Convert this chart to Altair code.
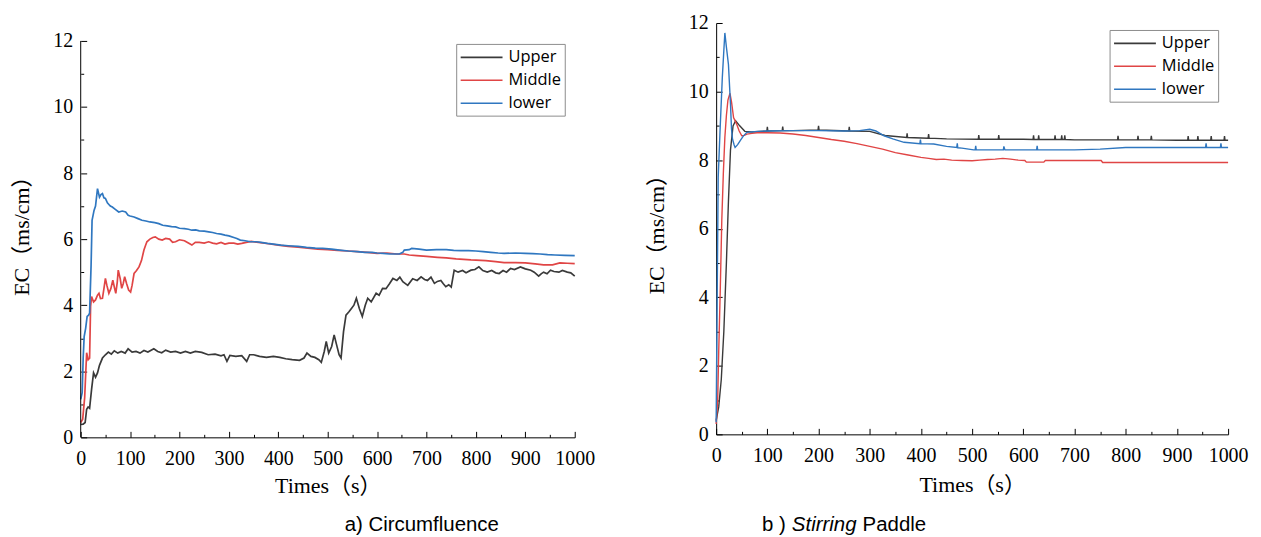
import altair as alt
import pandas as pd

SERIES = ["Upper", "Middle", "lower"]
COLORS = ["#3a3a3a", "#e04545", "#2f77c0"]
X_TICKS = list(range(0, 1001, 100))
X_MINOR = list(range(0, 1001, 50))
Y_TICKS = list(range(0, 13, 2))
Y_MINOR = list(range(0, 13, 1))
X_TITLE = "Times（s）"
Y_TITLE = "EC（ms/cm）"
CAPTION_A = ["a) Circumfluence"]
CAPTION_B = ["b )", "Stirring", "Paddle"]

LABEL_FONT = "Liberation Serif, Times New Roman, serif"
TITLE_FONT = "Liberation Serif, Noto Sans CJK SC, serif"

# ---- panel a) Circumfluence : (time s, EC ms/cm)
UPPER_A = [(0,0.39),(5,0.40),(9,0.45),(12,0.85),(15,0.92),(18,0.88),(22,1.45),(26,1.95),(30,1.82),(34,1.95),(38,2.18),(44,2.40),(50,2.5),(56,2.58),(62,2.52),(68,2.62),(75,2.55),(82,2.6),(90,2.55),(96,2.68),(104,2.58),(112,2.6),(120,2.55),(128,2.63),(136,2.58),(148,2.68),(156,2.6),(164,2.56),(172,2.64),(182,2.58),(192,2.6),(202,2.55),(212,2.6),(222,2.55),(232,2.6),(245,2.57),(258,2.5),(272,2.52),(284,2.47),(290,2.5),(296,2.3),(302,2.48),(314,2.45),(326,2.47),(336,2.3),(342,2.5),(350,2.5),(362,2.45),(376,2.42),(390,2.45),(403,2.42),(415,2.38),(428,2.35),(443,2.33),(452,2.4),(458,2.55),(466,2.45),(474,2.42),(482,2.35),(487,2.27),(493,2.6),(497,2.9),(502,2.55),(508,2.75),(513,3.1),(518,2.8),(523,2.5),(527,2.4),(532,3.2),(537,3.7),(543,3.8),(548,3.9),(553,4.0),(558,4.21),(564,3.9),(570,3.66),(576,4.0),(581,4.21),(588,4.1),(598,4.36),(604,4.3),(611,4.51),(618,4.5),(625,4.65),(632,4.81),(640,4.75),(646,4.85),(652,4.71),(662,4.6),(672,4.8),(681,4.75),(689,4.86),(696,4.78),(702,4.75),(709,4.85),(716,4.66),(722,4.72),(729,4.75),(734,4.65),(739,4.56),(745,4.62),(750,4.55),(756,5.06),(764,5.0),(773,5.05),(780,4.98),(790,5.06),(798,5.08),(806,5.16),(814,5.05),(823,5.0),(832,5.05),(840,4.98),(847,4.96),(855,5.05),(862,5.0),(870,5.11),(878,5.08),(890,5.16),(900,5.1),(911,5.06),(918,5.0),(927,4.88),(932,4.95),(937,5.0),(944,4.95),(951,5.06),(958,5.02),(968,5.0),(975,5.05),(985,5.0),(992,4.98),(1000,4.88)]
MIDDLE_A = [(0,0.45),(4,0.55),(8,1.2),(12,2.56),(15,2.35),(18,2.4),(20,3.96),(22,4.26),(26,4.1),(30,4.16),(34,4.3),(37,4.36),(40,4.2),(44,4.21),(47,4.5),(50,4.81),(53,4.6),(57,4.36),(61,4.5),(65,4.76),(68,4.55),(71,4.36),(74,4.7),(76,5.06),(80,4.8),(83,4.51),(86,4.65),(89,4.86),(93,4.65),(97,4.46),(101,4.4),(104,4.6),(108,4.96),(113,5.05),(118,5.16),(123,5.35),(128,5.67),(131,5.8),(134,5.92),(140,6.0),(146,6.05),(151,6.07),(158,6.0),(165,5.97),(172,6.02),(180,6.0),(186,5.9),(192,5.92),(200,5.98),(210,5.95),(218,5.88),(225,5.82),(232,5.9),(240,5.9),(250,5.88),(259,5.92),(267,5.88),(275,5.86),(284,5.9),(292,5.85),(300,5.88),(310,5.88),(318,5.85),(326,5.87),(335,5.9),(345,5.93),(360,5.9),(380,5.86),(400,5.82),(420,5.78),(440,5.76),(460,5.73),(480,5.7),(500,5.68),(520,5.66),(540,5.64),(560,5.62),(580,5.6),(600,5.57),(620,5.58),(640,5.55),(655,5.55),(665,5.52),(680,5.5),(700,5.48),(722,5.45),(740,5.43),(760,5.4),(790,5.37),(820,5.35),(840,5.32),(857,5.29),(880,5.29),(900,5.28),(920,5.25),(937,5.22),(955,5.22),(970,5.28),(985,5.27),(1000,5.26)]
LOWER_A = [(0,1.15),(3,1.35),(5,2.4),(7,3.05),(10,3.3),(13,3.66),(16,3.7),(18,3.76),(21,5.2),(23,6.57),(27,6.87),(30,7.0),(34,7.53),(36,7.4),(38,7.27),(41,7.35),(44,7.38),(47,7.25),(50,7.23),(54,7.1),(57,7.05),(60,7.0),(64,6.97),(70,6.9),(77,6.82),(84,6.85),(91,6.82),(96,6.72),(100,6.7),(108,6.67),(116,6.62),(124,6.57),(132,6.55),(140,6.52),(150,6.5),(158,6.47),(166,6.42),(175,6.4),(184,6.38),(192,6.37),(200,6.33),(210,6.32),(218,6.3),(225,6.27),(233,6.28),(240,6.25),(250,6.24),(259,6.22),(267,6.2),(275,6.17),(284,6.15),(292,6.12),(300,6.1),(310,6.05),(316,6.02),(323,5.97),(333,5.95),(343,5.92),(355,5.92),(365,5.9),(378,5.87),(390,5.85),(405,5.82),(420,5.8),(440,5.78),(457,5.75),(475,5.73),(490,5.72),(508,5.7),(524,5.67),(542,5.64),(560,5.62),(575,5.6),(590,5.6),(600,5.58),(612,5.57),(625,5.55),(645,5.55),(652,5.6),(655,5.67),(665,5.68),(670,5.72),(685,5.7),(700,5.67),(720,5.68),(740,5.68),(755,5.66),(769,5.65),(785,5.65),(800,5.64),(815,5.62),(830,5.6),(845,5.58),(857,5.57),(880,5.58),(900,5.57),(915,5.56),(930,5.55),(945,5.53),(960,5.52),(980,5.51),(1000,5.5)]

# ---- panel b) Stirring Paddle
UPPER_B = [(0,0.4),(5,0.8),(10,1.6),(15,3.0),(20,5.0),(24,6.8),(28,8.3),(33,9.0),(38,9.15),(46,9.0),(56,8.84),(70,8.82),(99,8.85),(100,8.97),(101,8.85),(129,8.86),(130,8.98),(131,8.86),(150,8.86),(199,8.88),(200,9.0),(201,8.88),(259,8.85),(260,8.97),(261,8.85),(300,8.84),(330,8.72),(372,8.66),(373,8.78),(374,8.66),(414,8.64),(415,8.76),(416,8.64),(450,8.62),(512,8.61),(513,8.73),(514,8.61),(551,8.61),(552,8.73),(553,8.61),(600,8.61),(619,8.6),(620,8.72),(621,8.6),(629,8.6),(630,8.72),(631,8.6),(661,8.6),(662,8.72),(663,8.6),(674,8.6),(675,8.72),(676,8.6),(680,8.6),(681,8.72),(682,8.6),(700,8.59),(784,8.59),(785,8.71),(786,8.59),(823,8.59),(824,8.71),(825,8.59),(849,8.59),(850,8.71),(851,8.59),(900,8.58),(921,8.58),(922,8.7),(923,8.58),(940,8.58),(941,8.7),(942,8.58),(966,8.58),(967,8.7),(968,8.58),(992,8.58),(993,8.7),(994,8.58),(1000,8.58)]
MIDDLE_B = [(0,0.3),(3,1.0),(5,2.4),(8,4.2),(11,6.24),(14,7.6),(17,8.66),(20,9.3),(23,9.75),(27,9.95),(30,9.7),(34,9.24),(40,9.05),(45,8.85),(50,8.71),(55,8.72),(60,8.76),(70,8.78),(80,8.8),(100,8.8),(125,8.79),(150,8.76),(175,8.72),(200,8.66),(225,8.6),(250,8.55),(275,8.48),(300,8.4),(325,8.32),(350,8.22),(375,8.15),(400,8.08),(415,8.05),(430,8.02),(445,8.03),(460,8.0),(480,7.99),(500,7.98),(515,8.0),(530,8.02),(545,8.03),(560,8.05),(575,8.03),(590,8.0),(603,7.99),(606,7.94),(640,7.94),(643,7.99),(752,7.99),(755,7.93),(1000,7.93)]
LOWER_B = [(0,0.35),(2,4.0),(4,7.5),(8,9.0),(12,10.4),(15,11.2),(17,11.71),(20,11.3),(24,10.79),(28,9.63),(30,8.9),(32,8.61),(35,8.45),(37,8.37),(42,8.45),(47,8.57),(53,8.7),(60,8.81),(80,8.84),(100,8.85),(150,8.86),(200,8.86),(250,8.85),(280,8.86),(300,8.9),(312,8.85),(328,8.71),(345,8.62),(367,8.52),(398,8.48),(399,8.6),(400,8.48),(425,8.47),(450,8.4),(470,8.37),(471,8.49),(472,8.36),(480,8.35),(503,8.3),(506,8.3),(507,8.42),(508,8.3),(561,8.3),(562,8.4),(564,8.3),(626,8.3),(627,8.42),(628,8.3),(700,8.3),(750,8.32),(800,8.37),(956,8.37),(957,8.49),(958,8.37),(985,8.37),(986,8.49),(987,8.37),(1000,8.37)]


def frame(upper, middle, lower):
    rows = []
    for name, pts in zip(SERIES, [upper, middle, lower]):
        for t, v in pts:
            rows.append({"t": t, "v": v, "s": name})
    return pd.DataFrame(rows)


def tick_size(test, big, small):
    return {"condition": {"test": test, "value": big}, "value": small}


def panel(df, W, H, ymax, lx, ly, lw, captions, y_title_pad, x_title_pad, draw_rule):
    xs = alt.Scale(domain=[0, 1000], nice=False, zero=False)
    ys = alt.Scale(domain=[0, ymax], nice=False, zero=True)
    color = alt.Color(
        "s:N",
        scale=alt.Scale(domain=SERIES, range=COLORS),
        legend=alt.Legend(
            title=None, orient="none", legendX=lx, legendY=ly,
            strokeColor="#8c8c8c", fillColor="white", padding=3.5,
            labelFont="Open Sans", labelFontSize=16.5, labelColor="black",
            symbolType="M-1,0H3.667", symbolSize=324, symbolStrokeWidth=1.6,
            labelOffset=29, rowPadding=4, cornerRadius=0,
        ),
    )
    common = dict(
        grid=False, labelOverlap=False, labelBound=False, labelFlush=False,
        labelFont=LABEL_FONT, labelFontSize=20, labelColor="black",
        titleFont=TITLE_FONT, titleFontSize=22, titleFontWeight="normal",
        titleColor="black", domainColor="black",
    )
    lines = alt.Chart(df).mark_line(strokeWidth=lw).encode(
        x=alt.X("t:Q", scale=xs, axis=alt.Axis(
            values=X_TICKS, ticks=False, title=X_TITLE, labelPadding=11,
            titlePadding=x_title_pad, format="d", **common)),
        y=alt.Y("v:Q", scale=ys, axis=alt.Axis(
            values=Y_TICKS, ticks=False, title=Y_TITLE, labelPadding=8,
            titlePadding=y_title_pad, domain=not draw_rule, **common)),
        color=color,
    )
    ticks = alt.Chart(df).mark_point(opacity=0).encode(
        x=alt.X("t:Q", scale=xs, axis=alt.Axis(
            orient="top", offset=-H, values=X_MINOR, labels=False, domain=False,
            title=None, grid=False, tickColor="black",
            tickSize=tick_size("datum.value % 100 === 0", 6, 3))),
        y=alt.Y("v:Q", scale=ys, axis=alt.Axis(
            orient="right", offset=-W, values=Y_MINOR, labels=False, domain=False,
            title=None, grid=False, tickColor="black",
            tickSize=tick_size("datum.value % 2 === 0", 6, 3))),
    )
    layers = [lines, ticks]
    if draw_rule:
        rule = alt.Chart(pd.DataFrame({"a": [0]})).mark_rule(color="black", strokeWidth=1).encode(
            x=alt.value(0), y=alt.YDatum(0, axis=None), y2=alt.Y2Datum(12))
        layers.append(rule)
    for text, px, italic in captions:
        layers.append(
            alt.Chart(pd.DataFrame({"c": [text]})).mark_text(
                align="left", baseline="alphabetic", font="Liberation Sans",
                fontSize=20.5, color="black",
                fontStyle="italic" if italic else "normal",
            ).encode(text="c:N", x=alt.value(px), y=alt.value(510))
        )
    return alt.layer(*layers).resolve_axis(x="independent", y="independent").properties(width=W, height=H)


left = panel(
    frame(UPPER_A, MIDDLE_A, LOWER_A), 496, 416, 12 * 416 / 398, 377, 21, 1.7,
    [(CAPTION_A[0], 265, False)], 19, 7, True)
right = panel(
    frame(UPPER_B, MIDDLE_B, LOWER_B), 514, 413, 12, 395, 7, 1.4,
    [(CAPTION_B[0], 46, False), (CAPTION_B[1], 76, True), (CAPTION_B[2], 147, False)], 20, 9, False)

chart = alt.hconcat(left, right, spacing=142, bounds="flush").resolve_scale(
    color="independent", x="independent", y="independent"
).configure_view(stroke=None).configure_axis(
    labelFont=LABEL_FONT, labelFontSize=20, labelColor="black",
    titleFont=TITLE_FONT, titleFontSize=22, titleFontWeight="normal",
    titleColor="black", domainColor="black", domainWidth=1,
).properties(padding={"left": 3, "top": 4, "right": 5, "bottom": 0})

chart.save("out.html", embed_options={"renderer": "svg", "actions": False})
